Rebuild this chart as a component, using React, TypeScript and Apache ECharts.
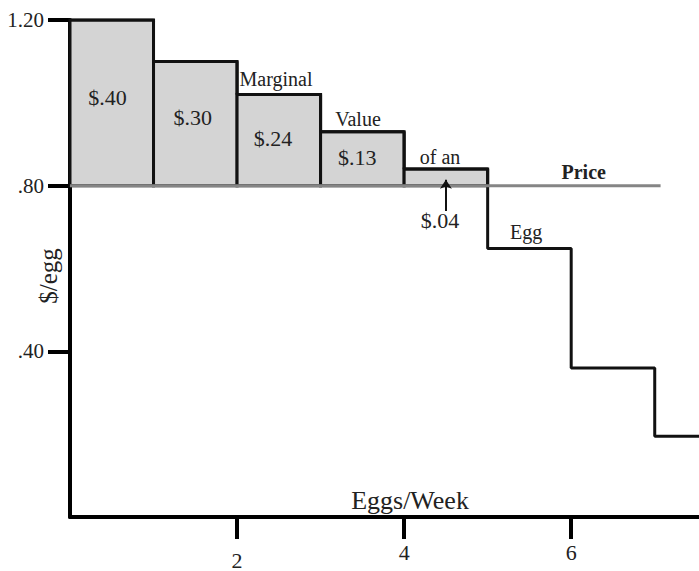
import React, { useEffect, useRef } from "react";
import * as echarts from "echarts";

// ---- data ----
const eggs = [1, 2, 3, 4, 5, 6, 7, 8];
const marginalValues = [1.2, 1.1, 1.02, 0.93, 0.84, 0.648, 0.36, 0.195];
const price = 0.8;
const xMax = 7.53;
const priceLineEnd = 7.07;
const xTickValues = [2, 4, 6];
const yTickValues = [1.2, 0.8, 0.4];
const yTickLabels = ["1.20", ".80", ".40"];
const surplusLabels = ["$.40", "$.30", "$.24", "$.13", "$.04"];
const surplusAnchors = [
  [0.45, 1.013],
  [1.47, 0.965],
  [2.43, 0.914],
  [3.44, 0.869],
  [4.43, 0.715],
];
const noteTexts = ["Marginal", "Value", "of an", "Egg"];
const noteAnchors = [
  [2.466, 1.058],
  [3.448, 0.962],
  [4.43, 0.869],
  [5.46, 0.688],
];
const priceLabel = "Price";
const priceLabelAnchor = [6.15, 0.833];
const arrowFrom = [4.5, 0.739];
const arrowTo = [4.5, 0.814];

const FONT = "'Liberation Serif', 'Times New Roman', serif";

export default function App() {
  const ref = useRef<HTMLDivElement>(null);
  useEffect(() => {
    if (!ref.current) return;
    const chart = echarts.init(ref.current, undefined, { renderer: "svg" });

    const surplusBars = marginalValues
      .map((v, i) => [eggs[i] - 1, eggs[i], v])
      .filter((d) => d[2] > price);

    const stepData = marginalValues.map((v, i) => [eggs[i] - 1, v]);
    stepData.push([xMax, marginalValues[marginalValues.length - 1]]);

    const annotations = [
      ...surplusLabels.map((t, i) => ({ value: surplusAnchors[i], name: t, kind: "s" })),
      ...noteTexts.map((t, i) => ({ value: noteAnchors[i], name: t, kind: "n" })),
      { value: priceLabelAnchor, name: priceLabel, kind: "p" },
    ];

    const option: any = {
      animation: false,
      grid: { left: 70, top: 20, right: 0, bottom: 51, containLabel: false },
      xAxis: {
        type: "value",
        min: 0,
        max: xMax,
        splitLine: { show: false },
        axisLine: { show: true, lineStyle: { color: "#000", width: 4 } },
        axisTick: {
          show: true,
          length: 22,
          lineStyle: { color: "#000", width: 4 },
          customValues: xTickValues,
        },
        axisLabel: {
          customValues: xTickValues,
          margin: 24,
          formatter: (v: number) => (v === 2 ? `{low|${v}}` : `{n|${v}}`),
          rich: {
            n: { fontFamily: FONT, fontSize: 22, color: "#222" },
            low: { fontFamily: FONT, fontSize: 22, color: "#222", padding: [8, 0, 0, 0] },
          },
        },
      },
      yAxis: {
        type: "value",
        min: 0,
        max: 1.2,
        splitLine: { show: false },
        axisLine: { show: true, lineStyle: { color: "#000", width: 4 } },
        axisTick: {
          show: true,
          length: 22,
          lineStyle: { color: "#000", width: 4 },
          customValues: yTickValues,
        },
        axisLabel: {
          customValues: yTickValues,
          margin: 26,
          fontFamily: FONT,
          fontSize: 21,
          color: "#222",
          formatter: (v: number) => {
            const i = yTickValues.findIndex((t) => Math.abs(t - v) < 1e-6);
            return i >= 0 ? yTickLabels[i] : "";
          },
        },
      },
      graphic: [
        {
          type: "text",
          x: 48,
          y: 276,
          rotation: Math.PI / 2,
          style: {
            text: "$/egg",
            fontFamily: FONT,
            fontSize: 25,
            fill: "#222",
            textAlign: "center",
            textVerticalAlign: "middle",
          },
        },
        {
          type: "text",
          x: 410,
          y: 500,
          style: {
            text: "Eggs/Week",
            fontFamily: FONT,
            fontSize: 26,
            fill: "#222",
            textAlign: "center",
            textVerticalAlign: "middle",
          },
        },
      ],
      series: [
        {
          type: "custom",
          z: 2,
          data: surplusBars,
          renderItem: (params: any, api: any) => {
            const p0 = api.coord([api.value(0), price]);
            const p1 = api.coord([api.value(1), api.value(2)]);
            return {
              type: "rect",
              shape: {
                x: p0[0],
                y: p1[1],
                width: p1[0] - p0[0],
                height: p0[1] - p1[1],
              },
              style: { fill: "#d4d4d4", stroke: "#111", lineWidth: 3 },
            };
          },
        },
        {
          type: "line",
          z: 3,
          step: "end",
          data: stepData,
          showSymbol: false,
          symbol: "none",
          lineStyle: { color: "#111", width: 3 },
        },
        {
          type: "line",
          z: 4,
          data: [
            [0, price],
            [priceLineEnd, price],
          ],
          showSymbol: false,
          symbol: "none",
          lineStyle: { color: "#858585", width: 3 },
        },
        {
          type: "lines",
          coordinateSystem: "cartesian2d",
          z: 5,
          symbol: ["none", "arrow"],
          symbolSize: 9,
          lineStyle: { color: "#111", width: 2, opacity: 1 },
          data: [{ coords: [arrowFrom, arrowTo] }],
        },
        {
          type: "custom",
          z: 6,
          data: annotations,
          renderItem: (params: any, api: any) => {
            const item = annotations[params.dataIndex];
            const p = api.coord([api.value(0), api.value(1)]);
            const isPrice = item.kind === "p";
            const size = item.kind === "s" ? 22 : 20;
            return {
              type: "text",
              x: p[0],
              y: p[1],
              style: {
                text: item.name,
                fontFamily: FONT,
                fontSize: size,
                fontWeight: isPrice ? "bold" : "normal",
                fill: "#222",
                textAlign: "center",
                textVerticalAlign: "middle",
              },
            };
          },
        },
      ],
    };
    chart.setOption(option);
    return () => chart.dispose();
  }, []);

  return (
    <div
      ref={ref}
      style={{ position: "absolute", left: 0, top: 0, width: 699, height: 571, background: "#fff" }}
    />
  );
}
